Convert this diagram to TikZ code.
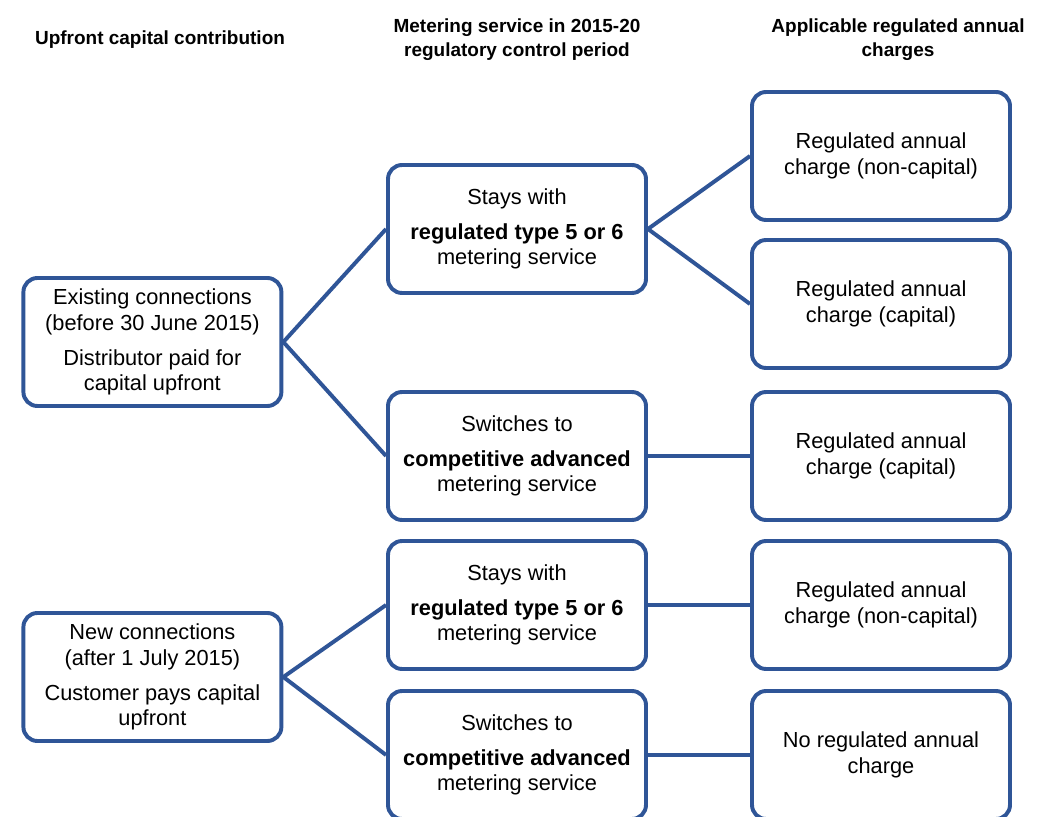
\documentclass[tikz,border=0pt]{standalone}
\usepackage{fontspec}
\setmainfont{Liberation Sans}
\usepackage{tikz}
\definecolor{MeterBlue}{RGB}{47,85,151}
\tikzset{box/.style={draw=MeterBlue,line width=2.8pt,rounded corners=10pt,fill=white,minimum width=6.45cm,minimum height=3.2cm,align=center,inner sep=2pt,font=\fontsize{15.5}{18}\selectfont}, head/.style={align=center,font=\fontsize{13.5}{17}\selectfont\bfseries}, link/.style={draw=MeterBlue,line width=2.8pt}}

\begin{document}
\begin{tikzpicture}
\clip (0,0) rectangle (26.375,20.4);
\node[head] (hcap) at (4.0,19.4) {Upfront capital contribution};
\node[head] (hmet) at (12.925,19.4) {Metering service in 2015-20\\regulatory control period};
\node[head] (hchg) at (22.45,19.4) {Applicable regulated annual\\charges};
\node[box] (lold) at (3.81,11.85) {Existing connections\\(before 30 June 2015)\\[7pt]Distributor paid for\\capital upfront};
\node[box] (lnew) at (3.81,3.475) {New connections\\(after 1 July 2015)\\[7pt]Customer pays capital\\upfront};
\node[box] (mstay) at (12.925,14.675) {Stays with\\[7pt]\textbf{regulated type 5 or 6}\\metering service};
\node[box] (mswitch) at (12.925,9.0) {Switches to\\[7pt]\textbf{competitive advanced}\\metering service};
\node[box] (mstaynew) at (12.925,5.275) {Stays with\\[7pt]\textbf{regulated type 5 or 6}\\metering service};
\node[box] (mswitchnew) at (12.925,1.525) {Switches to\\[7pt]\textbf{competitive advanced}\\metering service};
\node[box] (rnoncap) at (22.025,16.5) {Regulated annual\\charge (non-capital)};
\node[box] (rcap) at (22.025,12.8) {Regulated annual\\charge (capital)};
\node[box] (rcapsw) at (22.025,9.0) {Regulated annual\\charge (capital)};
\node[box] (rnoncapnew) at (22.025,5.275) {Regulated annual\\charge (non-capital)};
\node[box] (rnone) at (22.025,1.525) {No regulated annual\\charge};
\draw[link] (lold.east)--(mstay.west);
\draw[link] (lold.east)--(mswitch.west);
\draw[link] (lnew.east)--(mstaynew.west);
\draw[link] (lnew.east)--(mswitchnew.west);
\draw[link] (mstay.east)--(rnoncap.west);
\draw[link] (mstay.east)--(rcap.west);
\draw[link] (mswitch.east)--(rcapsw.west);
\draw[link] (mstaynew.east)--(rnoncapnew.west);
\draw[link] (mswitchnew.east)--(rnone.west);
\end{tikzpicture}
\end{document}
